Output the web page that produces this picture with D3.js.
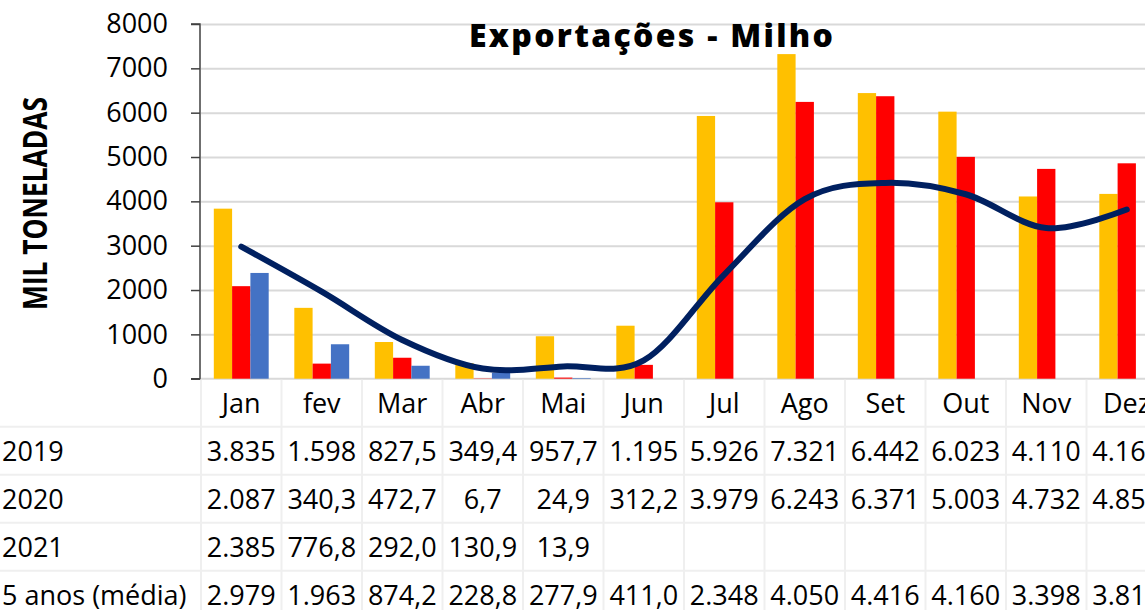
<!DOCTYPE html>
<html>
<head>
<meta charset="utf-8">
<script src="https://cdn.jsdelivr.net/npm/d3@7"></script>
<style>
  html, body { margin: 0; padding: 0; background: #fff; overflow: hidden; }
  svg { display: block; }
  text { font-family: "Open Sans", "Noto Sans", sans-serif; fill: #000; }
</style>
</head>
<body>
<svg id="chart" width="1145" height="610"></svg>
<script>
// ---- data ----
const months = ["Jan", "fev", "Mar", "Abr", "Mai", "Jun", "Jul", "Ago", "Set", "Out", "Nov", "Dez"];
const barSeries = ["2019", "2020", "2021"];
const values2019 = [3835, 1598, 827.5, 349.4, 957.7, 1195, 5926, 7321, 6442, 6023, 4110, 4168];
const values2020 = [2087, 340.3, 472.7, 6.7, 24.9, 312.2, 3979, 6243, 6371, 5003, 4732, 4858];
const values2021 = [2385, 776.8, 292.0, 130.9, 13.9, null, null, null, null, null, null, null];
const avg5Label = "5 anos (média)";
const avg5 = [2979, 1963, 874.2, 228.8, 277.9, 411.0, 2348, 4050, 4416, 4160, 3398, 3815];
const yTicks = [0, 1000, 2000, 3000, 4000, 5000, 6000, 7000, 8000];
const title = "Exportações - Milho";
const yLabel = "MIL TONELADAS";

const colors = { "2019": "#FFC000", "2020": "#FF0000", "2021": "#4472C4" };
const lineColor = "#002060";

// ---- layout ----
const svg = d3.select("#chart");
const plotLeft = 201, plotRight = 1167, plotTop = 24, plotBottom = 378.7;
const rowH = 48;

const x = d3.scaleBand().domain(months).range([plotLeft, plotRight]).paddingInner(0).paddingOuter(0);
const xs = d3.scaleBand().domain(barSeries).range([0, x.bandwidth()]).paddingInner(0).paddingOuter(0.7);
const y = d3.scaleLinear().domain([0, 8000]).range([plotBottom, plotTop]);

const seriesData = { "2019": values2019, "2020": values2020, "2021": values2021 };

// gridlines
svg.append("g")
  .attr("transform", `translate(${plotLeft},0)`)
  .call(d3.axisLeft(y).tickValues(yTicks.filter(d => d > 0)).tickSize(-(plotRight - plotLeft)).tickFormat(""))
  .call(g => g.select(".domain").remove())
  .call(g => g.selectAll("line").attr("stroke", "#d9d9d9").attr("stroke-width", 2));

// x baseline
svg.append("line")
  .attr("x1", plotLeft).attr("x2", plotRight)
  .attr("y1", y(0)).attr("y2", y(0))
  .attr("stroke", "#d9d9d9").attr("stroke-width", 2);

// bars
barSeries.forEach(s => {
  svg.append("g").selectAll("rect")
    .data(months.map((m, i) => ({ m, v: seriesData[s][i] })).filter(d => d.v != null))
    .join("rect")
    .attr("x", d => x(d.m) + xs(s))
    .attr("width", xs.bandwidth())
    .attr("y", d => y(d.v))
    .attr("height", d => y(0) - y(d.v))
    .attr("fill", colors[s]);
});

// y axis
const yAxis = svg.append("g")
  .attr("transform", `translate(200,0)`)
  .call(d3.axisLeft(y).tickValues(yTicks).tickSize(9).tickPadding(23).tickFormat(d3.format("d")));
yAxis.select(".domain").attr("stroke", "#404040").attr("stroke-width", 1.5).attr("d", `M-9,${plotTop}H0V${plotBottom}H-9`);
yAxis.selectAll(".tick line").attr("stroke", "#404040").attr("stroke-width", 1.5);
yAxis.selectAll(".tick text").attr("font-size", 27).attr("font-family", "'Open Sans', sans-serif").attr("fill", "#000");

// 5-year average line
const line = d3.line()
  .x((d, i) => x(months[i]) + x.bandwidth() / 2)
  .y(d => y(d))
  .curve(d3.curveCardinal.tension(0));
svg.append("path")
  .datum(avg5)
  .attr("d", line)
  .attr("fill", "none")
  .attr("stroke", lineColor)
  .attr("stroke-width", 6)
  .attr("stroke-linecap", "round")
  .attr("stroke-linejoin", "round");

// title
const t = svg.append("text")
  .attr("x", 651).attr("y", 46.5)
  .attr("text-anchor", "middle")
  .attr("font-size", 32).attr("font-weight", 800)
  .text(title);
(function fitTitle() {
  const target = 364;
  const len = t.node().getComputedTextLength();
  const n = title.length - 1;
  const ls = Math.max(0, (target - len) / n);
  t.attr("letter-spacing", ls + "px").attr("x", 651 + ls / 2);
})();

// y label
const yl = svg.append("text")
  .attr("transform", `translate(47,203.5) rotate(-90) scale(1,1.3)`)
  .attr("text-anchor", "middle")
  .attr("font-size", 28)
  .attr("font-weight", "bold")
  .text(yLabel);
(function fitYLabel() {
  const target = 213;
  const len = yl.node().getComputedTextLength();
  yl.attr("font-size", 28 * target / len);
})();

// ---- data table ----
const loc = d3.formatLocale({ decimal: ",", thousands: ".", grouping: [3], currency: ["", ""] });
const fInt = loc.format(",.0f"), fDec = loc.format(",.1f");
const fmt = v => v == null ? "" : (v >= 1000 ? fInt(v) : fDec(v));

const tableTop = plotBottom;
const rowsData = [
  { label: "2019", vals: values2019 },
  { label: "2020", vals: values2020 },
  { label: "2021", vals: values2021 },
  { label: avg5Label, vals: avg5 }
];
const gridColor = "#efefef";
const tbl = svg.append("g");
// horizontal lines
for (let r = 1; r <= rowsData.length + 1; r++) {
  tbl.append("line")
    .attr("x1", 0).attr("x2", plotRight)
    .attr("y1", tableTop + r * rowH).attr("y2", tableTop + r * rowH)
    .attr("stroke", gridColor).attr("stroke-width", 2);
}
// vertical lines
months.concat(["_end"]).forEach((m, i) => {
  const xx = plotLeft + i * x.step();
  tbl.append("line")
    .attr("x1", xx).attr("x2", xx)
    .attr("y1", tableTop + 1).attr("y2", 610)
    .attr("stroke", gridColor).attr("stroke-width", 2);
});
// header (month labels)
tbl.append("g").selectAll("text")
  .data(months).join("text")
  .attr("x", d => x(d) + x.bandwidth() / 2)
  .attr("y", tableTop + 34)
  .attr("text-anchor", "middle")
  .attr("font-size", 27)
  .text(d => d);
// rows
rowsData.forEach((row, r) => {
  const baseY = tableTop + (r + 1) * rowH + 34;
  tbl.append("text")
    .attr("x", 2).attr("y", baseY)
    .attr("font-size", 27)
    .text(row.label);
  tbl.append("g").selectAll("text")
    .data(row.vals.map((v, i) => ({ v, m: months[i] })))
    .join("text")
    .attr("x", d => x(d.m) + x.bandwidth() / 2)
    .attr("y", baseY)
    .attr("text-anchor", "middle")
    .attr("font-size", 27)
    .text(d => fmt(d.v));
});
</script>
</body>
</html>
